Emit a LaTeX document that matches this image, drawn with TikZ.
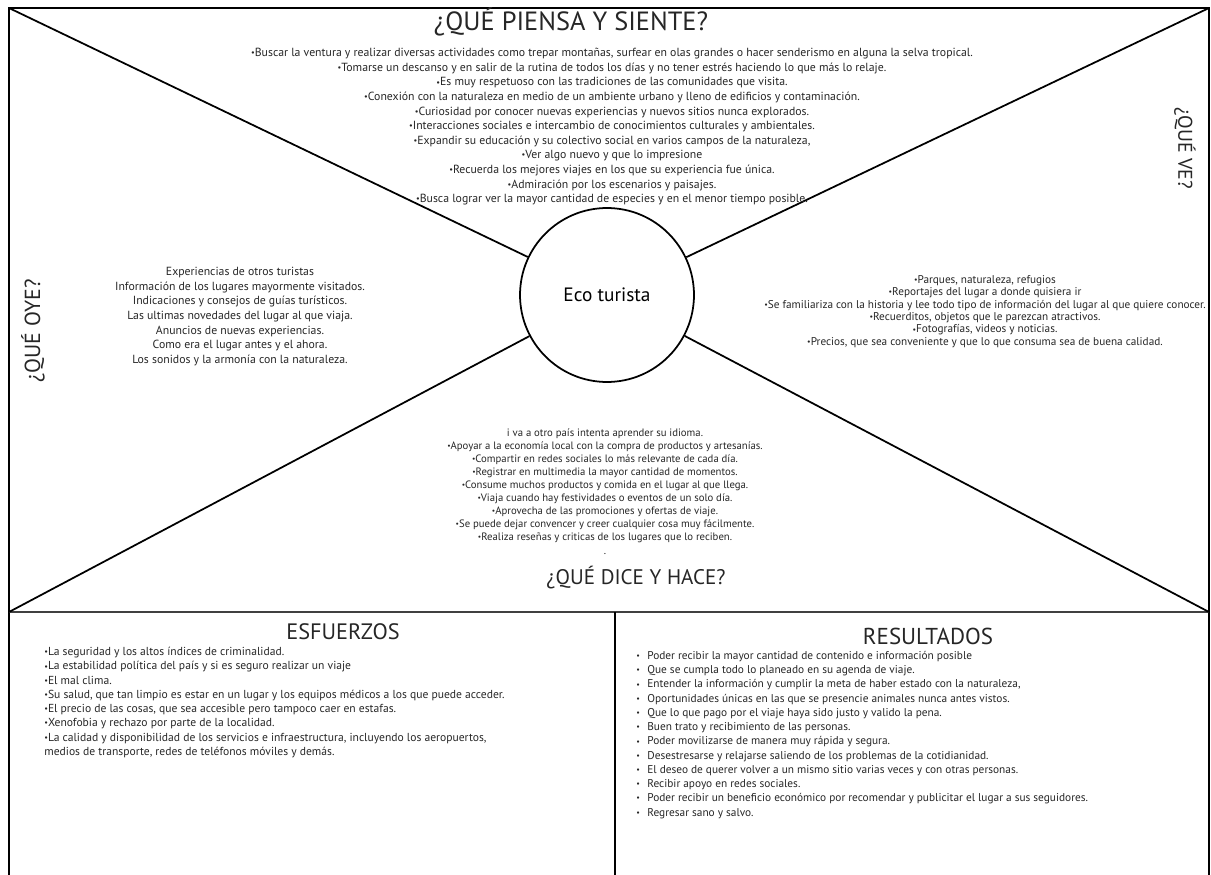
\documentclass[tikz,border=0pt]{standalone}
\usepackage{fontspec}
\setmainfont{PT Sans}
\usetikzlibrary{calc}
\tikzset{
  heading/.style={font=\fontsize{13}{15}\selectfont, text=black!85, inner sep=0pt},
  block/.style={font=\fontsize{6.7}{8.3}\selectfont, text=black!85, inner sep=0pt},
  frameline/.style={line width=1.2pt},
  ray/.style={line width=1pt}
}
\newcommand{\bt}{\raisebox{0.15ex}{\scalebox{0.7}{•}}}
\newcommand{\rb}{\makebox[0.22cm][l]{\bt}}

\begin{document}
\begin{tikzpicture}[x=0.02cm, y=-0.02cm]
		%%%%% START %%%%%
		\useasboundingbox (0,0) rectangle (1211,875);
		
		\draw[frameline] (9,875) -- (9,8) -- (1209,8) -- (1209,875);
		\draw[line width=1pt, color=black!75] (9,612) -- (1209,612);
		\draw[frameline] (615,612) -- (615,875);
		
		\coordinate (cTL) at (9,8);
		\coordinate (cTR) at (1209,8);
		\coordinate (cBL) at (9,612);
		\coordinate (cBR) at (1209,612);
		
		\node[draw, circle, line width=1pt, minimum size=3.48cm, font=\fontsize{11}{13}\selectfont] (eco) at (607,295) {Eco turista};
		
		\draw[ray] (cTL) -- (eco);
		\draw[ray] (cTR) -- (eco);
		\draw[ray] (cBL) -- (eco);
		\draw[ray] (cBR) -- (eco);
		
		\node[heading, font=\fontsize{15}{17}\selectfont] (piensa) at (571,22) {¿QUÉ PIENSA Y SIENTE?};
		\node[heading, font=\fontsize{12.4}{14}\selectfont, rotate=90] (oye) at (33,331) {¿QUÉ OYE?};
		\node[heading, font=\fontsize{11.3}{13}\selectfont, rotate=-90] (ve) at (1185,148) {¿QUÉ VE?};
		\node[heading, font=\fontsize{12}{14}\selectfont] (dice) at (636,578) {¿QUÉ DICE Y HACE?};
		\node[heading, font=\fontsize{12.7}{15}\selectfont] (esf) at (343,632) {ESFUERZOS};
		\node[heading, font=\fontsize{13.1}{15}\selectfont] (res) at (928,636) {RESULTADOS};
		
		\node[block, align=center, anchor=north] (piensaTxt) at (612,48) {%
			\bt Buscar la ventura y realizar diversas actividades como trepar montañas, surfear en olas grandes o hacer senderismo en alguna la selva tropical.\\
			\bt Tomarse un descanso y en salir de la rutina de todos los días y no tener estrés haciendo lo que más lo relaje.\\
			\bt Es muy respetuoso con las tradiciones de las comunidades que visita.\\
			\bt Conexión con la naturaleza en medio de un ambiente urbano y lleno de edificios y contaminación.\\
			\bt Curiosidad por conocer nuevas experiencias y nuevos sitios nunca explorados.\\
			\bt Interacciones sociales e intercambio de conocimientos culturales y ambientales.\\
			\bt Expandir su educación y su colectivo social en varios campos de la naturaleza,\\
			\bt Ver algo nuevo y que lo impresione\\
			\bt Recuerda los mejores viajes en los que su experiencia fue única.\\
			\bt Admiración por los escenarios y paisajes.\\
			\bt Busca lograr ver la mayor cantidad de especies y en el menor tiempo posible.};
		
		\node[block, align=center, anchor=north] (oyeTxt) at (240,267) {%
			Experiencias de otros turistas\\
			Información de los lugares mayormente visitados.\\
			Indicaciones y consejos de guías turísticos.\\
			Las ultimas novedades del lugar al que viaja.\\
			Anuncios de nuevas experiencias.\\
			Como era el lugar antes y el ahora.\\
			Los sonidos y la armonía con la naturaleza.};
		
		\node[block, font=\fontsize{6.4}{7.05}\selectfont, align=center, anchor=north] (veTxt) at (985,275) {%
			\bt Parques, naturaleza, refugios\\
			\bt Reportajes del lugar a donde quisiera ir\\
			\bt Se familiariza con la historia y lee todo tipo de información del lugar al que quiere conocer.\\
			\bt Recuerditos, objetos que le parezcan atractivos.\\
			\bt Fotografías, videos y noticias.\\
			\bt Precios, que sea conveniente y que lo que consuma sea de buena calidad.};
		
		\node[block, font=\fontsize{6.1}{7.4}\selectfont, align=center, anchor=north] (diceTxt) at (605,428) {%
			i va a otro país intenta aprender su idioma.\\
			\bt Apoyar a la economía local con la compra de productos y artesanías.\\
			\bt Compartir en redes sociales lo más relevante de cada día.\\
			\bt Registrar en multimedia la mayor cantidad de momentos.\\
			\bt Consume muchos productos y comida en el lugar al que llega.\\
			\bt Viaja cuando hay festividades o eventos de un solo día.\\
			\bt Aprovecha de las promociones y ofertas de viaje.\\
			\bt Se puede dejar convencer y creer cualquier cosa muy fácilmente.\\
			\bt Realiza reseñas y criticas de los lugares que lo reciben.\\[1pt]
			.};
		
		\node[block, font=\fontsize{6.6}{8.1}\selectfont, align=left, anchor=north west] (esfTxt) at (44,647) {%
			\bt La seguridad y los altos índices de criminalidad.\\
			\bt La estabilidad política del país y si es seguro realizar un viaje\\
			\bt El mal clima.\\
			\bt Su salud, que tan limpio es estar en un lugar y los equipos médicos a los que puede acceder.\\
			\bt El precio de las cosas, que sea accesible pero tampoco caer en estafas.\\
			\bt Xenofobia y rechazo por parte de la localidad.\\
			\bt La calidad y disponibilidad de los servicios e infraestructura, incluyendo los aeropuertos,\\
			medios de transporte, redes de teléfonos móviles y demás.};
		
		\node[block, font=\fontsize{6.45}{8.1}\selectfont, align=left, anchor=north west] (resTxt) at (636,651) {%
			\rb Poder recibir la mayor cantidad de contenido e información posible\\
			\rb Que se cumpla todo lo planeado en su agenda de viaje.\\
			\rb Entender la información y cumplir la meta de haber estado con la naturaleza,\\
			\rb Oportunidades únicas en las que se presencie animales nunca antes vistos.\\
			\rb Que lo que pago por el viaje haya sido justo y valido la pena.\\
			\rb Buen trato y recibimiento de las personas.\\
			\rb Poder movilizarse de manera muy rápida y segura.\\
			\rb Desestresarse y relajarse saliendo de los problemas de la cotidianidad.\\
			\rb El deseo de querer volver a un mismo sitio varias veces y con otras personas.\\
			\rb Recibir apoyo en redes sociales.\\
			\rb Poder recibir un beneficio económico por recomendar y publicitar el lugar a sus seguidores.\\
			\rb Regresar sano y salvo.};
		
		%%%%% END %%%%%
\end{tikzpicture}
\end{document}
